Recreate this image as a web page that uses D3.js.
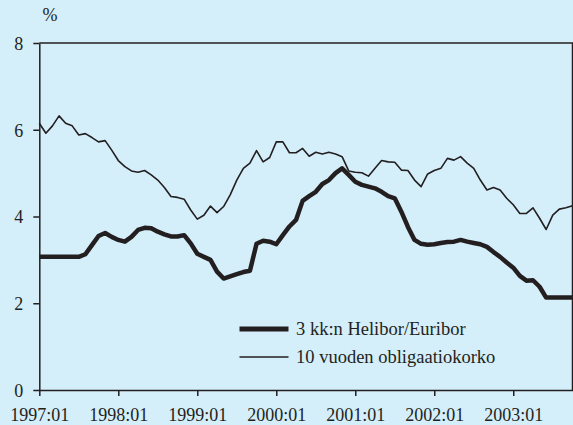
<!DOCTYPE html>
<html>
<head>
<meta charset="utf-8">
<script src="https://cdn.jsdelivr.net/npm/d3@7"></script>
<style>
    body { margin: 0; background: #d4eefa; }
    svg { display: block; }
    .axis text { font-family: "Liberation Serif", serif; font-size: 18px; fill: #231f20; }
    .axis path, .axis line { stroke: #231f20; stroke-width: 1.5; }
</style>
</head>
<body>
<div class="chart"></div>
<script>
// monthly data 1997:01 - 2003:10
var yTicks = [0, 2, 4, 6, 8];
var xTickLabels = ["1997:01", "1998:01", "1999:01", "2000:01", "2001:01", "2002:01", "2003:01"];
var seriesNames = ["3 kk:n Helibor/Euribor", "10 vuoden obligaatiokorko"];

var helibor = [
    3.07, 3.07, 3.07, 3.07, 3.07, 3.07, 3.07, 3.13, 3.34, 3.55, 3.62, 3.53,
    3.46, 3.42, 3.53, 3.69, 3.74, 3.73, 3.65, 3.59, 3.54, 3.54, 3.57, 3.38,
    3.14, 3.07, 3.00, 2.73, 2.57, 2.62, 2.67, 2.72, 2.75, 3.37, 3.44, 3.42,
    3.36, 3.57, 3.77, 3.92, 4.36, 4.47, 4.57, 4.75, 4.84, 5.00, 5.11, 4.96,
    4.80, 4.73, 4.69, 4.65, 4.57, 4.47, 4.42, 4.11, 3.76, 3.46, 3.37, 3.35,
    3.36, 3.39, 3.41, 3.42, 3.46, 3.42, 3.39, 3.36, 3.30, 3.18, 3.07, 2.94,
    2.82, 2.63, 2.52, 2.53, 2.38, 2.13, 2.13, 2.13, 2.13, 2.13
];

var bond10 = [
    6.15, 5.92, 6.09, 6.32, 6.15, 6.09, 5.88, 5.91, 5.82, 5.72, 5.75, 5.53,
    5.29, 5.15, 5.05, 5.02, 5.06, 4.96, 4.84, 4.67, 4.46, 4.44, 4.40, 4.15,
    3.94, 4.03, 4.24, 4.09, 4.23, 4.50, 4.84, 5.11, 5.23, 5.52, 5.26, 5.36,
    5.72, 5.72, 5.47, 5.47, 5.57, 5.39, 5.48, 5.44, 5.48, 5.44, 5.38, 5.05,
    5.02, 5.01, 4.93, 5.11, 5.29, 5.26, 5.25, 5.07, 5.06, 4.84, 4.69, 4.98,
    5.06, 5.11, 5.34, 5.30, 5.38, 5.23, 5.11, 4.84, 4.61, 4.67, 4.61, 4.42,
    4.27, 4.07, 4.07, 4.20, 3.96, 3.70, 4.03, 4.17, 4.20, 4.25
];

function plotRates() {

    var width = 573,
        height = 425,
        left = 39.3,
        right = 572.5,
        top = 43,
        bottom = 390;

    var x = d3.scaleLinear()
        .domain([0, helibor.length - 1])
        .range([left, right]);

    var y = d3.scaleLinear()
        .domain([0, 8])
        .range([bottom, top]);

    var svg = d3.select('.chart').append("svg")
        .attr("width", width)
        .attr("height", height);

    //frame top + right
    svg.append("path")
        .attr("d", "M" + left + "," + top + "H" + right + "V" + bottom)
        .attr("fill", "none")
        .attr("stroke", "#231f20")
        .attr("stroke-width", 1.5);

    //y axis
    svg.append("g")
        .attr("class", "axis")
        .attr("transform", "translate(" + left + ",0)")
        .call(d3.axisLeft(y).tickValues(yTicks).tickSize(6).tickPadding(10).tickSizeOuter(0))
        .selectAll("text")
        .attr("dy", "0.35em");

    //x axis
    svg.append("g")
        .attr("class", "axis")
        .attr("transform", "translate(0," + bottom + ")")
        .call(d3.axisBottom(x)
            .tickValues(xTickLabels.map(function (d, i) { return i * 12; }))
            .tickFormat(function (d, i) { return xTickLabels[i]; })
            .tickSize(6).tickPadding(12).tickSizeOuter(0));

    //unit
    svg.append("text")
        .attr("x", 50)
        .attr("y", 21)
        .attr("text-anchor", "middle")
        .style("font-family", "Liberation Serif, serif")
        .style("font-size", "18px")
        .style("fill", "#231f20")
        .text("%");

    var line = d3.line()
        .x(function (d, i) { return x(i); })
        .y(function (d) { return y(d); });

    svg.append("path")
        .datum(bond10)
        .attr("d", line)
        .attr("fill", "none")
        .attr("stroke", "#231f20")
        .attr("stroke-width", 1.6)
        .attr("stroke-linejoin", "round");

    svg.append("path")
        .datum(helibor)
        .attr("d", line)
        .attr("fill", "none")
        .attr("stroke", "#231f20")
        .attr("stroke-width", 4.5)
        .attr("stroke-linejoin", "round");

    //legend
    var legend = svg.append("g");
    var legendY = [329, 357];
    var legendW = [5, 1.6];
    seriesNames.forEach(function (name, i) {
        legend.append("line")
            .attr("x1", 239.5).attr("x2", 288.5)
            .attr("y1", legendY[i]).attr("y2", legendY[i])
            .attr("stroke", "#231f20")
            .attr("stroke-width", legendW[i]);
        legend.append("text")
            .attr("x", 296)
            .attr("y", legendY[i] + 6)
            .style("font-family", "Liberation Serif, serif")
            .style("font-size", "18.5px")
            .style("fill", "#231f20")
            .text(name);
    });
}

plotRates();
</script>
</body>
</html>
